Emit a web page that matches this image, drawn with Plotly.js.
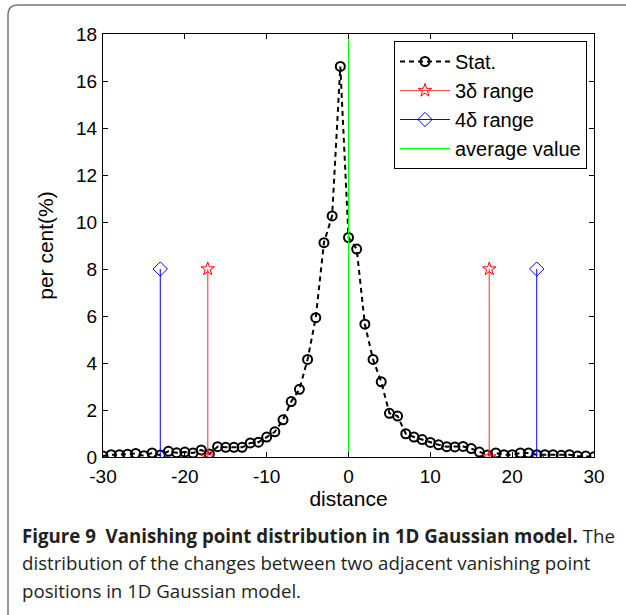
<!DOCTYPE html>
<html>
<head>
<meta charset="utf-8">
<script src="https://cdn.plot.ly/plotly-3.0.1.min.js"></script>
<style>
  html, body { margin: 0; padding: 0; background: #fff; }
  #chart { width: 626px; height: 615px; }
</style>
</head>
<body>
<div id="chart"></div>
<script>
// ---- data ----
const distance = [-30,-29,-28,-27,-26,-25,-24,-23,-22,-21,-20,-19,-18,-17,-16,-15,-14,-13,-12,-11,
  -10,-9,-8,-7,-6,-5,-4,-3,-2,-1,0,1,2,3,4,5,6,7,8,9,10,11,12,13,14,15,16,17,18,19,20,
  21,22,23,24,25,26,27,28,29,30];
const percent = [0.04,0.10,0.10,0.12,0.15,0.05,0.17,0.08,0.24,0.18,0.21,0.17,0.30,0.13,0.44,0.41,0.41,0.41,0.60,0.63,
  0.85,1.07,1.58,2.36,2.88,4.15,5.93,9.12,10.26,16.62,9.34,8.85,5.65,4.15,3.20,1.86,1.74,0.99,0.85,0.74,0.62,
  0.52,0.44,0.43,0.45,0.36,0.21,0.08,0.17,0.10,0.10,0.17,0.17,0.10,0.10,0.10,0.07,0.10,0.04,0.04,0.01];
const range3 = [-17.2, 17.2];
const range4 = [-23.0, 23.0];
const stemHeight = [0, 8];
const averageValue = 0;
const averageSpan = [0, 18];
const xTickVals = [-30,-20,-10,0,10,20,30];
const xTickText = ['-30','-20','-10','0','10','20','30'];
const yTickVals = [0,2,4,6,8,10,12,14,16,18];
const yTickText = ['0','2','4','6','8','10','12','14','16','18'];
const captionLines = [
  '<b>Figure 9\u00a0 Vanishing point distribution in 1D Gaussian model.</b> The',
  'distribution of the changes between two adjacent vanishing point',
  'positions in 1D Gaussian model.'
];

const sans = 'Liberation Sans, Arial, Helvetica, sans-serif';
const tickFont = {family: sans, size: 19, color: '#000'};
const titleFont = {family: sans, size: 21, color: '#000'};
const legendFont = {family: sans, size: 20, color: '#000'};

const traces = [];
traces.push({
  x: distance, y: percent, type: 'scatter', mode: 'lines+markers', name: 'Stat.',
  line: {color: '#000', width: 2, dash: '5px,4px'},
  marker: {symbol: 'circle-open', size: 9, color: '#000', line: {width: 2, color: '#000'}}
});
range3.forEach((v, i) => traces.push({
  x: [v, v], y: stemHeight, type: 'scatter', mode: 'lines+markers', name: '3\u03b4 range',
  legendgroup: 'r3', showlegend: i === 0,
  line: {color: '#ff5050', width: 1.2},
  marker: {symbol: 'star-open', size: 10, color: '#ff0000', line: {width: 1, color: '#ff0000'}}
}));
range4.forEach((v, i) => traces.push({
  x: [v, v], y: stemHeight, type: 'scatter', mode: 'lines+markers', name: '4\u03b4 range',
  legendgroup: 'r4', showlegend: i === 0,
  line: {color: '#0000ff', width: 1},
  marker: {symbol: 'diamond-open', size: 11, color: '#0000ff', line: {width: 1, color: '#0000ff'}}
}));
traces.push({
  x: [averageValue, averageValue], y: averageSpan, type: 'scatter', mode: 'lines', name: 'average value',
  line: {color: '#00ff00', width: 1}
});

const L = 103, T = 34, W = 491, H = 423;
const px = v => (v - L) / W;
const py = v => (T + H - v) / H;

const annotations = captionLines.map((t, i) => ({
  text: t, xref: 'paper', yref: 'paper', x: px(20), y: py(535 + i * 27.5),
  xanchor: 'left', yanchor: 'middle', showarrow: false, align: 'left',
  font: {family: 'Open Sans, Noto Sans, sans-serif', size: 18.7, color: '#231f20'}
}));

const layout = {
  width: 626, height: 615,
  margin: {l: L, r: 626 - L - W, t: T, b: 615 - T - H, pad: 0},
  paper_bgcolor: '#fff', plot_bgcolor: '#fff',
  showlegend: true,
  legend: {
    x: px(587), y: py(41), xanchor: 'right', yanchor: 'top',
    bgcolor: '#fff', bordercolor: '#000', borderwidth: 1,
    font: legendFont, tracegroupgap: 0, itemwidth: 50
  },
  xaxis: {
    range: [-30, 30], tickvals: xTickVals, ticktext: xTickText,
    ticks: 'inside', ticklen: 5, tickcolor: '#000', showline: true, linecolor: '#000', linewidth: 1,
    mirror: 'ticks', showgrid: false, zeroline: false, tickfont: tickFont, ticklabelstandoff: 2,
    title: {text: 'distance', font: titleFont, standoff: 0}
  },
  yaxis: {
    range: [0, 18], tickvals: yTickVals, ticktext: yTickText,
    ticks: 'inside', ticklen: 5, tickcolor: '#000', showline: true, linecolor: '#000', linewidth: 1,
    mirror: 'ticks', showgrid: false, zeroline: false, tickfont: tickFont, ticklabelstandoff: 1,
    title: {text: 'per cent(%)', font: titleFont, standoff: 16}
  },
  shapes: [{
    type: 'path', xref: 'paper', yref: 'paper',
    path: 'M ' + px(8) + ' ' + py(615) + ' L ' + px(8) + ' ' + py(15) +
          ' Q ' + px(8) + ' ' + py(5) + ' ' + px(18) + ' ' + py(5) +
          ' L ' + px(626) + ' ' + py(5),
    line: {color: '#777', width: 1.5}
  }],
  annotations: annotations
};

Plotly.newPlot('chart', traces, layout, {displayModeBar: false, staticPlot: true});
</script>
</body>
</html>
